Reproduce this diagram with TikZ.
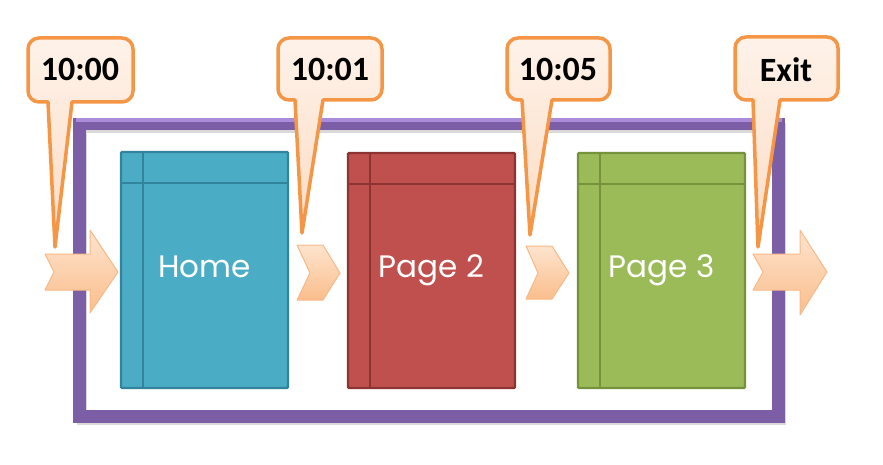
\documentclass[tikz,border=0pt]{standalone}
\usepackage{fontspec}
\newfontfamily\calloutfont{Carlito}
\newfontfamily\pagefont{Poppins}
\definecolor{framepurple}{RGB}{124,94,166}
\definecolor{framelight}{RGB}{170,140,218}
\definecolor{calloutline}{RGB}{245,150,70}
\definecolor{callouttop}{RGB}{254,242,233}
\definecolor{calloutbot}{RGB}{252,220,196}
\definecolor{arrowtop}{RGB}{254,228,206}
\definecolor{arrowbot}{RGB}{250,190,140}
\definecolor{arrowline}{RGB}{248,185,135}
\definecolor{homefill}{RGB}{75,172,198}
\definecolor{homeline}{RGB}{49,132,155}
\definecolor{p2fill}{RGB}{192,80,77}
\definecolor{p2line}{RGB}{140,52,50}
\definecolor{p3fill}{RGB}{155,187,89}
\definecolor{p3line}{RGB}{118,146,60}
\tikzset{
  pagebox/.style={line width=2.2pt, rounded corners=1pt},
  pagetext/.style={text=white, anchor=base, inner sep=0pt, font=\pagefont\fontsize{31}{35}\selectfont},
  callouttext/.style={text=black, font=\calloutfont\bfseries\fontsize{34}{38}\selectfont},
  calloutbody/.style={draw=calloutline, line width=3.5pt, top color=callouttop, bottom color=calloutbot, line join=round},
  arrowbody/.style={draw=arrowline, line width=1pt, top color=arrowtop, bottom color=arrowbot, line join=round},
}
\newcommand\drawpage[7]{% name, left, right, top, bottom, fill, line
  \draw[pagebox, fill=#6, draw=#7] (#2,#4) rectangle (#3,#5);
  \draw[#7, line width=2.2pt] (#2+22,#4) -- (#2+22,#5);
  \draw[#7, line width=2.2pt] (#2,#4+31) -- (#3,#4+31);
  \coordinate (#1) at ({(#2+#3)/2},277);
}
\newcommand\drawcallout[8]{% L R T B b1 b2 tipx tipy
  \path[calloutbody] ({(#1+#2)/2},#3) [rounded corners=11pt] -- (#1,#3) -- (#1,#4) [sharp corners] -- (#5,#4) -- (#7,#8) -- (#6,#4) [rounded corners=11pt] -- (#2,#4) -- (#2,#3) [sharp corners] -- cycle;
}
\begin{document}
\begin{tikzpicture}[x=1pt,y=-1pt]
\useasboundingbox (0,0) rectangle (883,465);
\fill[white] (0,0) rectangle (883,465);
% frame
\draw[black!15, line width=10pt] (82,128) rectangle (781,420);
\draw[framepurple, line width=12.5pt] (79.5,124) rectangle (778.5,416.5);
\draw[framelight, line width=4pt] (76,120) -- (782,120);
% pages
\drawpage{home}{121}{288}{152}{388}{homefill}{homeline}
\drawpage{p2}{348}{515}{153}{388}{p2fill}{p2line}
\drawpage{p3}{578}{745}{153}{388}{p3fill}{p3line}
\node[pagetext] (hometxt) at (home) {Home};
\node[pagetext] (p2txt) at (p2) {Page 2};
\node[pagetext] (p3txt) at (p3) {Page 3};
% arrows
\path[arrowbody] (45,254) -- (90,254) -- (90,230) -- (118,272) -- (90,313) -- (90,290) -- (45,290) -- (54,272) -- cycle;
\path[arrowbody] (297,245) -- (323,245) -- (340,273) -- (323,300) -- (297,300) -- (310,273) -- cycle;
\path[arrowbody] (526,246) -- (552,246) -- (569,273) -- (552,299) -- (526,299) -- (538,273) -- cycle;
\path[arrowbody] (753,254) -- (800,254) -- (800,230) -- (827,272) -- (800,315) -- (800,290) -- (753,290) -- (763,272) -- cycle;
% callouts
\drawcallout{28}{133}{38}{102}{48}{72}{55}{247}
\drawcallout{278}{382}{38}{100}{295}{323}{302}{233}
\drawcallout{507}{610}{38}{100}{522}{552}{530}{235}
\drawcallout{735}{838}{37}{100}{753}{780}{758}{247}
\node[callouttext] (t1) at (80,69) {10:00};
\node[callouttext] (t2) at (330,69) {10:01};
\node[callouttext] (t3) at (558,69) {10:05};
\node[callouttext] (t4) at (786,70) {Exit};
\end{tikzpicture}
\end{document}
